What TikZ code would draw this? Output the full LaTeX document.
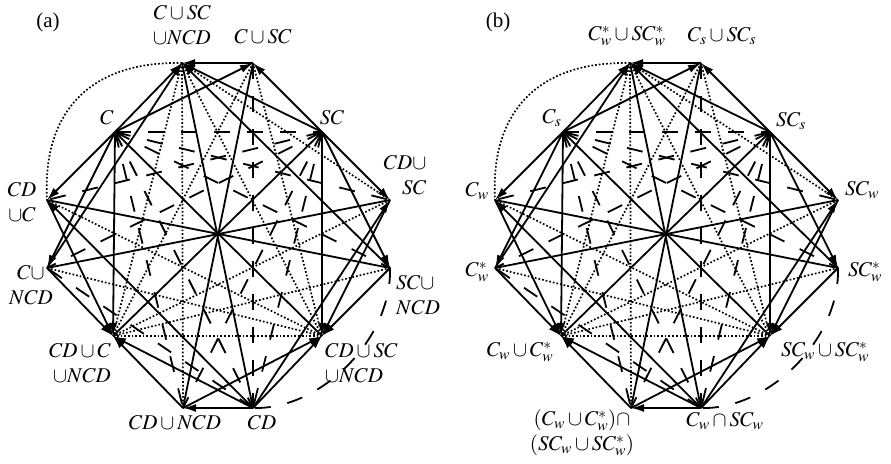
\documentclass[tikz,border=0pt]{standalone}
\usepackage{mathptmx}
\usepackage{fontspec}
\setmainfont{Liberation Serif}
\usetikzlibrary{arrows.meta}

\tikzset{
  imp/.style={line width=1.8pt,-{Latex[length=13pt,width=8pt]}}, % inclusion
  comp/.style={line width=1.8pt}, % complement
  ovl/.style={line width=1.7pt,dash pattern=on 1.7pt off 2pt}, % overlap
  dsj/.style={line width=1.8pt,dash pattern=on 16pt off 17pt}, % disjoint
  lbl/.style={font=\fontsize{21}{25}\selectfont,inner sep=0pt}
}

\begin{document}
\begin{tikzpicture}[x=1pt,y=-1pt]
\useasboundingbox (0,0) rectangle (891,463);

\foreach \p/\dx in {a/0,b/448}{
  % octagon corners and midpoints of the slanted sides
  \coordinate (\p1) at (182+\dx,63);
  \coordinate (\p2) at (253+\dx,63);
  \coordinate (\p3) at (322+\dx,132);
  \coordinate (\p4) at (390+\dx,200);
  \coordinate (\p5) at (390+\dx,268);
  \coordinate (\p6) at (322+\dx,336);
  \coordinate (\p7) at (253+\dx,408);
  \coordinate (\p8) at (183+\dx,408);
  \coordinate (\p9) at (113+\dx,336);
  \coordinate (\p10) at (47+\dx,268);
  \coordinate (\p11) at (47+\dx,200);
  \coordinate (\p12) at (115+\dx,132);
  % overlapping pairs
  \foreach \s/\t in {1/4,1/6,1/8,1/9,2/6,2/9,4/9,5/9,6/9,6/10,6/11}
    \draw[ovl] (\p\s) -- (\p\t);
  \draw[ovl] (\p1) .. controls +(-92,-2) and +(-5,-88) .. (\p11);
  % disjoint pairs
  \foreach \s/\t in {12/3,12/7,12/4,12/5,12/8,3/7,3/11,3/10,3/8,2/7,7/10}
    \draw[dsj] (\p\s) -- (\p\t);
  \draw[dsj] (\p5) .. controls +(2,72) and +(67,2) .. (\p7);
  % complements, through the centre
  \foreach \s/\t in {1/7,2/8,12/6,3/9,11/5,4/10}
    \draw[comp] (\p\s) -- (\p\t);
  % inclusions
  \foreach \s/\t in {12/2,12/10,12/11,12/1,12/9,3/2,3/5,3/4,3/1,3/6,7/11,7/4,7/8,7/9,7/6,2/1,10/1,10/9,5/1,5/6,11/9,4/6,8/9,8/6}
    \draw[imp] (\p\s) -- (\p\t);
}

% labels, left
\node[lbl] (ta) at (48,22) {(a)};
\node[lbl,align=right] (la1) at (182,25) {$C\cup SC$\\$\cup NCD$};
\node[lbl] (la2) at (263,37) {$C\cup SC$};
\node[lbl] (la12) at (107,118) {$C$};
\node[lbl] (la3) at (332,118) {$SC$};
\node[lbl,align=right] (la4) at (405,175) {$CD\cup$\\$SC$};
\node[lbl,align=center] (la11) at (22,202) {$CD$\\$\cup C$};
\node[lbl,align=center] (la10) at (31,285) {$C\cup$\\$NCD$};
\node[lbl,align=left,anchor=west] (la5) at (396,295) {$SC\cup$\\$NCD$};
\node[lbl,align=right] (la9) at (80,363) {$CD\cup C$\\$\cup NCD$};
\node[lbl,align=left,anchor=west] (la6) at (325,363) {$CD\cup SC$\\$\cup NCD$};
\node[lbl] (la8) at (175,423) {$CD\cup NCD$};
\node[lbl] (la7) at (262,423) {$CD$};

% labels, right
\node[lbl] (tb) at (498,22) {(b)};
\node[lbl] (lb1) at (627,36) {$C_w^*\cup SC_w^*$};
\node[lbl] (lb2) at (722,36) {$C_s\cup SC_s$};
\node[lbl] (lb12) at (552,118) {$C_s$};
\node[lbl] (lb3) at (791,121) {$SC_s$};
\node[lbl] (lb4) at (862,190) {$SC_w$};
\node[lbl] (lb5) at (865,272) {$SC_w^*$};
\node[lbl] (lb11) at (477,191) {$C_w$};
\node[lbl] (lb10) at (477,272) {$C_w^*$};
\node[lbl] (lb9) at (520,352) {$C_w\cup C_w^*$};
\node[lbl] (lb6) at (825,352) {$SC_w\cup SC_w^*$};
\node[lbl,align=center] (lb8) at (582,433) {$(C_w\cup C_w^*)\cap$\\$(SC_w\cup SC_w^*)$};
\node[lbl] (lb7) at (725,421) {$C_w\cap SC_w$};
\end{tikzpicture}
\end{document}
